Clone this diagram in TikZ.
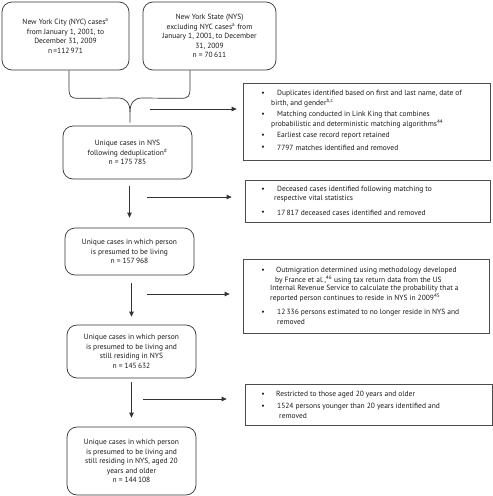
\documentclass[tikz,border=0pt]{standalone}
\usepackage{fontspec}
\setmainfont{PT Sans}
\usetikzlibrary{arrows.meta,calc}
\begin{document}
\begin{tikzpicture}[x=1pt,y=-1pt,
  every node/.style={inner sep=0pt, font=\fontsize{7.5}{9.6}\selectfont, text=black!90},
  lbox/.style={draw=black!80, line width=0.7pt, rounded corners=10pt, align=center},
  rbox/.style={draw=black!70, line width=0.7pt},
  ln/.style={anchor=west},
  bul/.style={anchor=center},
  conn/.style={draw=black!80, line width=0.7pt},
  arr/.style={conn, -{Triangle[length=5pt,width=4.5pt]}},
]
\useasboundingbox (0,0) rectangle (493,496);

% left column
\node[lbox, minimum width=127pt, minimum height=68pt] (tl) at (65.5,36)
  {New York City (NYC) cases\textsuperscript{a}\\from January 1, 2001, to\\December 31, 2009\\n\,=112\,971};
\node[lbox, minimum width=133pt, minimum height=68pt] (tr) at (209.5,36)
  {New York State (NYS)\\excluding NYC cases\textsuperscript{a} from\\January 1, 2001, to December\\31, 2009\\n = 70\,611};
\node[lbox, minimum width=129pt, minimum height=53pt] (A) at (127.5,152.5)
  {Unique cases in NYS\\following deduplication\textsuperscript{d}\\n = 175\,785};
\node[lbox, minimum width=129pt, minimum height=47pt] (B) at (129.5,251.5)
  {Unique cases in which person\\is presumed to be living\\n = 157\,968};
\node[lbox, minimum width=129pt, minimum height=53pt] (C) at (131.5,351.5)
  {Unique cases in which person\\is presumed to be living and\\still residing in NYS\\n = 145\,632};
\node[lbox, minimum width=129pt, minimum height=68pt] (D) at (131.5,461)
  {Unique cases in which person\\is presumed to be living and\\still residing in NYS, aged 20\\years and older\\n = 144\,108};

% brace
\coordinate (bl) at ($(tl.south)+(3.5,0)$);
\coordinate (br) at ($(tr.south)+(-19.5,0)$);
\coordinate (tip) at ($(A.north)+(2.5,-3)$);
\draw[conn] (bl) -- ++(0,17) .. controls ++(0,9) and ++(-9,0) .. ++(10,11) -- (118,98)
  .. controls (126,98) and (130,103) .. (130,112) -- (tip);
\draw[conn] (br) -- ++(0,17) .. controls ++(0,9) and ++(9,0) .. ++(-10,11) -- (142,98)
  .. controls (134,98) and (130,103) .. (130,112);

% right boxes
\node[rbox, minimum width=247pt, minimum height=77pt] (r1) at (366.5,121.5) {};
\node[rbox, minimum width=245pt, minimum height=42pt] (r2) at (367.5,201) {};
\node[rbox, minimum width=246pt, minimum height=74pt] (r3) at (366,296) {};
\node[rbox, minimum width=247pt, minimum height=41pt] (r4) at (368.5,404.5) {};

% r1 text
\node[bul] (b11) at (263,94) {\textbullet};
\node[ln] (t11) at (277,94) {Duplicates identified based on first and last name, date of};
\node[ln] (t12) at (271,103) {birth, and gender\textsuperscript{b,c}};
\node[bul] (b12) at (263,115) {\textbullet};
\node[ln] (t13) at (277,115) {Matching conducted in Link King that combines};
\node[ln] (t14) at (271,124) {probabilistic and deterministic matching algorithms\textsuperscript{44}};
\node[bul] (b13) at (263,136) {\textbullet};
\node[ln] (t15) at (277,136) {Earliest case record report retained};
\node[bul] (b14) at (263,148) {\textbullet};
\node[ln] (t16) at (277,148) {7797 matches identified and removed};

% r2 text
\node[bul] (b21) at (263,190) {\textbullet};
\node[ln] (t21) at (277,190) {Deceased cases identified following matching to};
\node[ln] (t22) at (274,199) {respective vital statistics};
\node[bul] (b22) at (263,213) {\textbullet};
\node[ln] (t23) at (277,213) {17\,817 deceased cases identified and removed};

% r3 text
\node[bul] (b31) at (263,271) {\textbullet};
\node[ln] (t31) at (276,271) {Outmigration determined using methodology developed};
\node[ln] (t32) at (275,280) {by France et al.,\textsuperscript{46} using tax return data from the US};
\node[ln] (t33) at (270,289) {Internal Revenue Service to calculate the probability that a};
\node[ln] (t34) at (270,298) {reported person continues to reside in NYS in 2009\textsuperscript{45}};
\node[bul] (b32) at (263,313) {\textbullet};
\node[ln] (t35) at (277,313) {12\,336 persons estimated to no longer reside in NYS and};
\node[ln] (t36) at (277,322) {removed};

% r4 text
\node[bul] (b41) at (263,395) {\textbullet};
\node[ln] (t41) at (276,395) {Restricted to those aged 20 years and older};
\node[bul] (b42) at (263,407) {\textbullet};
\node[ln] (t42) at (277,407) {1524 persons younger than 20 years identified and};
\node[ln] (t43) at (279,416) {removed};

% vertical arrows
\draw[arr, shorten <=7pt, shorten >=10pt] (A.south -| B.north) -- (B.north);
\draw[arr, shorten <=8pt, shorten >=8pt] (B.south -| C.north) -- (C.north);
\draw[arr, shorten <=4pt, shorten >=9pt] (C.south -| D.north) -- (D.north);

% horizontal arrows
\coordinate (h1) at (150,109);
\coordinate (h2) at (147,197);
\coordinate (h3) at (147,294);
\coordinate (h4) at (143,399);
\draw[arr, shorten >=6pt] (h1) -- (h1 -| r1.west);
\draw[arr, shorten >=13pt] (h2) -- (h2 -| r2.west);
\draw[arr, shorten >=13pt] (h3) -- (h3 -| r3.west);
\draw[arr, shorten >=18pt] (h4) -- (h4 -| r4.west);
\end{tikzpicture}
\end{document}
